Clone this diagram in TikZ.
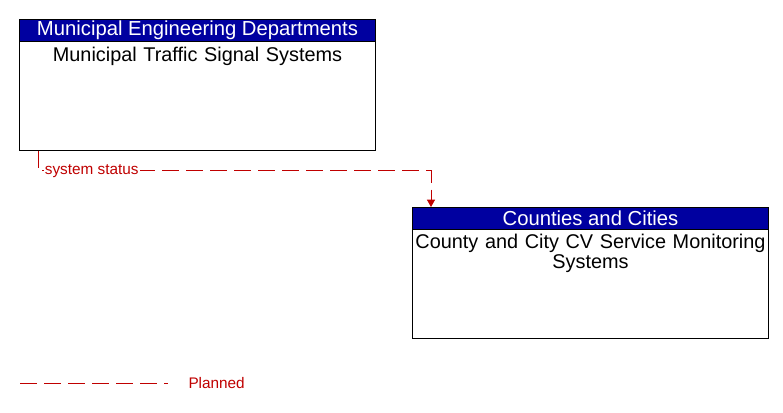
\documentclass[tikz,border=0pt]{standalone}
\usepackage{fontspec}
\setmainfont{Liberation Sans}
\usetikzlibrary{arrows.meta,positioning}

\definecolor{hdrblue}{RGB}{0,0,160}
\definecolor{plannedred}{RGB}{192,0,0}

\tikzset{every picture/.style={line width=0.75pt}}
\tikzset{
  elembox/.style={draw=black, rectangle, minimum width=267pt, minimum height=98pt, inner sep=0pt},
  elemhead/.style={draw=black, fill=hdrblue, text=white, rectangle, minimum width=267pt, minimum height=16.5pt, inner sep=0pt, font=\fontsize{15.2}{16.5}\selectfont},
  elemtext/.style={align=center, text width=275pt, inner sep=0pt, font=\fontsize{14.9}{15}\selectfont},
  planned/.style={draw=plannedred, dash pattern={on 12.75pt off 5.25pt}},
  flowlabel/.style={text=plannedred, fill=white, inner sep=0.75pt, font=\fontsize{11.5}{13}\selectfont}
}

\begin{document}
\begin{tikzpicture}[x=0.75pt,y=0.75pt,yscale=-1,xscale=1]
	\useasboundingbox (0,0) rectangle (783,412);
	
	%Shape: Rectangle [id:mts]
	\node [elembox, anchor=north west] (mts) at (19,19) {};
	\node [elemhead, anchor=north] (mtshead) at (mts.north) {Municipal Engineering Departments};
	% Text Node
	\node [elemtext, anchor=north] (mtstext) at ([yshift=3.75pt]mtshead.south) {Municipal Traffic Signal Systems};
	
	%Shape: Rectangle [id:ccv]
	\node [elembox, anchor=north west] (ccv) at (412,207) {};
	\node [elemhead, anchor=north] (ccvhead) at (ccv.north) {Counties and Cities};
	% Text Node
	\node [elemtext, anchor=north] (ccvtext) at ([yshift=3pt]ccvhead.south) {County and City CV Service Monitoring\\Systems};
	
	%Straight Lines [id:system status]
	\draw [planned, -{Triangle[width=6pt,length=5.5pt]}] ([xshift=14.25pt]mts.south west) -- ++(0,20) coordinate (ssbend) -| ([xshift=14.25pt]ccv.north west);
	% Text Node
	\node [flowlabel, anchor=west] (sslabel) at ([xshift=4pt]ssbend) {system status};
	
	%Legend
	\coordinate (legstart) at (20,383);
	\coordinate (legend) at (168,383);
	\draw [planned] (legstart) -- (legend);
	% Text Node
	\node [flowlabel, anchor=west, inner sep=0pt] (legtext) at (188,383) {Planned};
	
\end{tikzpicture}
\end{document}
